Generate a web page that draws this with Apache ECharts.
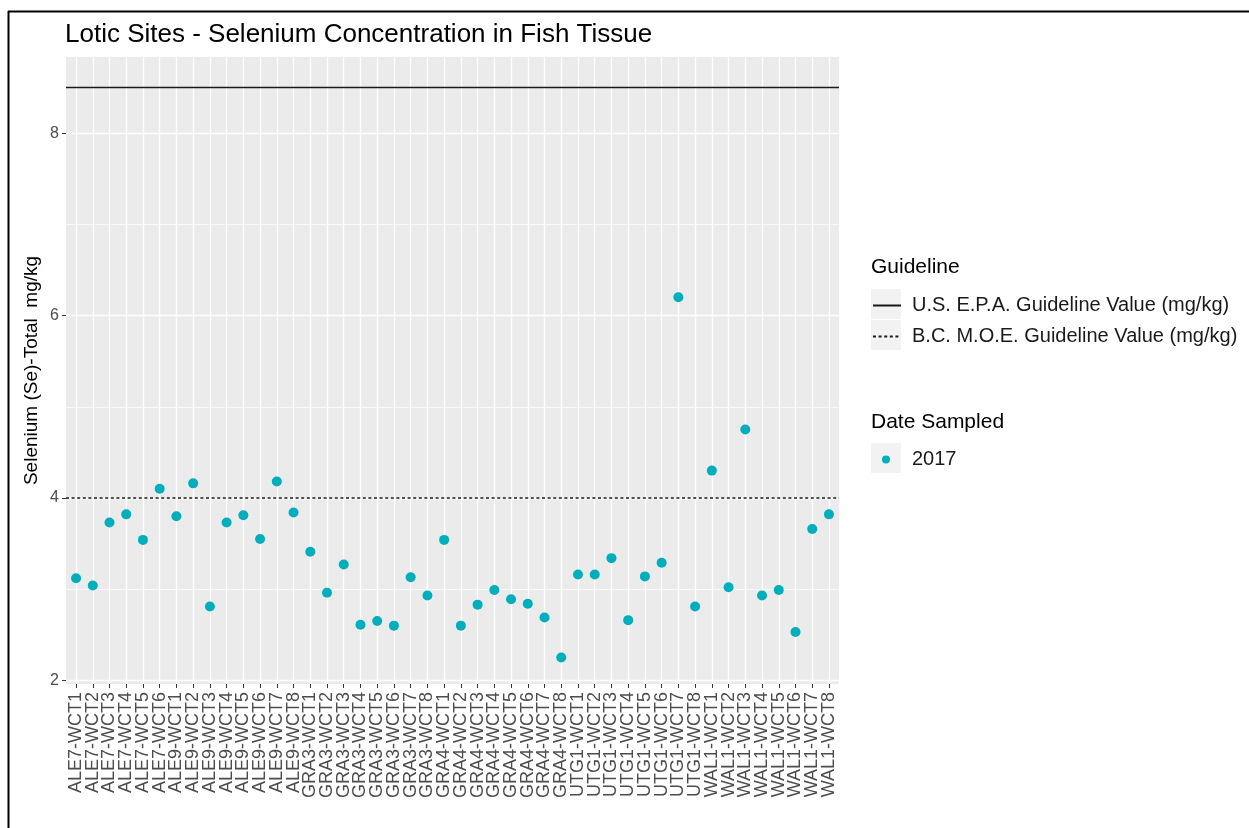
<!DOCTYPE html>
<html>
<head>
<meta charset="utf-8">
<script src="https://cdn.jsdelivr.net/npm/echarts@6/dist/echarts.min.js"></script>
<style>
  html, body { margin: 0; padding: 0; background: #fff; }
  #chart { width: 1249px; height: 828px; }
</style>
</head>
<body>
<div id="chart"></div>
<script>
// sites on the x axis
var sites = [
  'ALE7-WCT1', 'ALE7-WCT2', 'ALE7-WCT3', 'ALE7-WCT4', 'ALE7-WCT5', 'ALE7-WCT6',
  'ALE9-WCT1', 'ALE9-WCT2', 'ALE9-WCT3', 'ALE9-WCT4', 'ALE9-WCT5', 'ALE9-WCT6', 'ALE9-WCT7', 'ALE9-WCT8',
  'GRA3-WCT1', 'GRA3-WCT2', 'GRA3-WCT3', 'GRA3-WCT4', 'GRA3-WCT5', 'GRA3-WCT6', 'GRA3-WCT7', 'GRA3-WCT8',
  'GRA4-WCT1', 'GRA4-WCT2', 'GRA4-WCT3', 'GRA4-WCT4', 'GRA4-WCT5', 'GRA4-WCT6', 'GRA4-WCT7', 'GRA4-WCT8',
  'UTG1-WCT1', 'UTG1-WCT2', 'UTG1-WCT3', 'UTG1-WCT4', 'UTG1-WCT5', 'UTG1-WCT6', 'UTG1-WCT7', 'UTG1-WCT8',
  'WAL1-WCT1', 'WAL1-WCT2', 'WAL1-WCT3', 'WAL1-WCT4', 'WAL1-WCT5', 'WAL1-WCT6', 'WAL1-WCT7', 'WAL1-WCT8'
];

// Se total (mg/kg), 2017
var se2017 = [
  3.12, 3.04, 3.73, 3.82, 3.54, 4.10,
  3.80, 4.16, 2.81, 3.73, 3.81, 3.55, 4.18, 3.84,
  3.41, 2.96, 3.27, 2.61, 2.65, 2.60, 3.13, 2.93,
  3.54, 2.60, 2.83, 2.99, 2.89, 2.84, 2.69, 2.25,
  3.16, 3.16, 3.34, 2.66, 3.14, 3.29, 6.20, 2.81,
  4.30, 3.02, 4.75, 2.93, 2.99, 2.53, 3.66, 3.82
];

// guideline values
var epaValue = 8.5;
var bcValue = 4;

// y axis
var yRange = [1.96, 8.835];
var yTicks = [2, 4, 6, 8];
var yMinor = [3, 5, 7];

var font = 'Liberation Sans, Arial, sans-serif';
var epaName = 'U.S. E.P.A. Guideline Value (mg/kg)';
var bcName = 'B.C. M.O.E. Guideline Value (mg/kg)';

var xTicks = sites.map(function (s, i) { return i; });
// labels split over two stacked axes so none get dropped as overlapping
var xEven = xTicks.filter(function (i) { return i % 2 === 0; });
var xOdd = xTicks.filter(function (i) { return i % 2 === 1; });
var points = se2017.map(function (v, i) { return [i, v]; });

// discrete x axis padded by 0.6 like ggplot
var xMin = -0.6;
var xMax = sites.length - 1 + 0.6;

var myChart = echarts.init(document.getElementById('chart'));

var solidStyle = { color: '#1a1a1a', width: 1.4, type: 'solid' };
var dotStyle = { color: '#1a1a1a', width: 1.4, type: [3, 2.6] };

var legendText = { fontSize: 20, color: '#1a1a1a', lineHeight: 31, fontFamily: font };

var xLabel = function (vals) {
  return {
    customValues: vals,
    showMinLabel: true,
    showMaxLabel: true,
    rotate: 90,
    margin: 8,
    fontSize: 18,
    color: '#4d4d4d',
    fontFamily: font,
    formatter: function (v) { return sites[v]; }
  };
};

var option = {
  animation: false,
  backgroundColor: '#fff',
  textStyle: { fontFamily: font },
  title: [
    {
      text: 'Lotic Sites - Selenium Concentration in Fish Tissue',
      left: 65, top: 22, padding: 0,
      textStyle: { fontSize: 26, fontWeight: 'normal', color: '#000', fontFamily: font }
    },
    {
      text: 'Guideline',
      left: 871, top: 257, padding: 0,
      textStyle: { fontSize: 21, fontWeight: 'normal', color: '#000', fontFamily: font }
    },
    {
      text: 'Date Sampled',
      left: 871, top: 412, padding: 0,
      textStyle: { fontSize: 21, fontWeight: 'normal', color: '#000', fontFamily: font }
    }
  ],
  graphic: [
    // outer frame
    { type: 'line', shape: { x1: 8, y1: 11.5, x2: 1249, y2: 11.5 }, style: { stroke: '#000', lineWidth: 2 } },
    { type: 'line', shape: { x1: 8.5, y1: 11, x2: 8.5, y2: 828 }, style: { stroke: '#000', lineWidth: 2 } },
    // legend key backgrounds
    { type: 'rect', z: 0, shape: { x: 871, y: 289, width: 30, height: 30 }, style: { fill: '#f2f2f2' } },
    { type: 'rect', z: 0, shape: { x: 871, y: 320, width: 30, height: 30 }, style: { fill: '#f2f2f2' } },
    { type: 'rect', z: 0, shape: { x: 871, y: 443, width: 30, height: 30 }, style: { fill: '#f2f2f2' } }
  ],
  legend: [
    {
      data: [epaName, bcName],
      orient: 'vertical',
      left: 872, top: 290, padding: 0, itemGap: 0,
      itemWidth: 28, itemHeight: 31,
      itemStyle: { opacity: 0 },
      z: 10,
      textStyle: Object.assign({ padding: [0, 0, 0, 6] }, legendText)
    },
    {
      data: ['2017'],
      orient: 'vertical',
      left: 882, top: 444, padding: 0, itemGap: 0,
      itemWidth: 8, itemHeight: 8,
      z: 10,
      textStyle: Object.assign({ padding: [0, 0, 0, 17] }, legendText)
    }
  ],
  grid: {
    left: 66, right: 410, top: 57, bottom: 144,
    show: true, backgroundColor: '#ebebeb', borderWidth: 0
  },
  xAxis: [
    {
      type: 'value',
      position: 'bottom',
      min: xMin,
      max: xMax,
      axisLine: { show: false, onZero: false },
      axisTick: { show: true, length: 4, lineStyle: { color: '#333', width: 1 }, customValues: xTicks },
      axisLabel: xLabel(xEven),
      splitLine: { show: true, lineStyle: { color: '#fff', width: 1.4 } }
    },
    {
      type: 'value',
      position: 'bottom',
      offset: 0,
      min: xMin,
      max: xMax,
      axisLine: { show: false, onZero: false },
      axisTick: { show: false, customValues: xOdd },
      axisLabel: xLabel(xOdd),
      splitLine: { show: false }
    }
  ],
  yAxis: [
    {
      type: 'value',
      min: yRange[0],
      max: yRange[1],
      name: 'Selenium (Se)-Total  mg/kg',
      nameLocation: 'middle',
      nameRotate: 90,
      nameGap: 25,
      nameMoveOverlap: false,
      nameTextStyle: { fontSize: 19, color: '#000', fontFamily: font },
      axisLine: { show: false, onZero: false },
      axisTick: { show: true, length: 4, lineStyle: { color: '#333', width: 1 }, customValues: yTicks },
      axisLabel: { customValues: yTicks, margin: 7, fontSize: 16, color: '#4d4d4d', fontFamily: font },
      splitLine: { show: true, lineStyle: { color: '#fff', width: 1.4 } }
    },
    {
      type: 'value',
      position: 'left',
      min: yRange[0],
      max: yRange[1],
      axisLine: { show: false, onZero: false },
      axisTick: { show: false, customValues: yMinor },
      axisLabel: { show: false, customValues: yMinor },
      splitLine: { show: true, lineStyle: { color: '#fff', width: 0.7 } }
    }
  ],
  series: [
    {
      name: epaName,
      type: 'line',
      data: [[xMin, epaValue], [xMax, epaValue]],
      symbol: 'none',
      silent: true,
      lineStyle: solidStyle,
      itemStyle: { color: '#1a1a1a' }
    },
    {
      name: bcName,
      type: 'line',
      data: [[xMin, bcValue], [xMax, bcValue]],
      symbol: 'none',
      silent: true,
      lineStyle: dotStyle,
      itemStyle: { color: '#1a1a1a' }
    },
    {
      name: '2017',
      type: 'scatter',
      symbol: 'circle',
      symbolSize: 10,
      itemStyle: { color: '#00AFBB', opacity: 1 },
      data: points,
      z: 5
    }
  ]
};

myChart.setOption(option);
</script>
</body>
</html>
